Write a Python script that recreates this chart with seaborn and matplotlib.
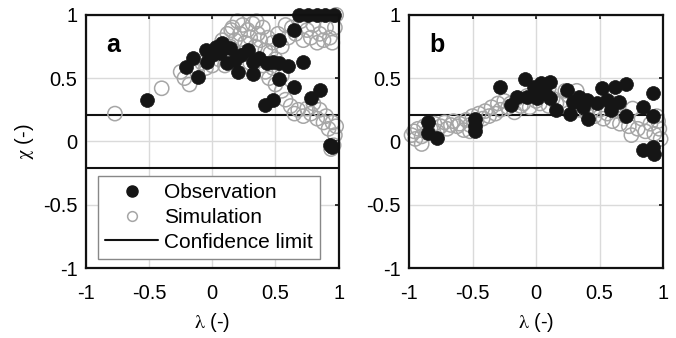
import pandas as pd
import matplotlib.pyplot as plt
import seaborn as sns
from matplotlib.lines import Line2D

# panel a: observed points (lambda, chi)
obs_a_x = [-0.52, -0.21, -0.15, -0.11, -0.05, -0.04, 0.03, 0.08, 0.14, 0.12, 0.20, 0.23,
           0.28, 0.32, 0.32, 0.37, 0.43, 0.48, 0.53, 0.53, 0.60, 0.53, 0.42, 0.48, 0.65,
           0.65, 0.72, 0.69, 0.76, 0.83, 0.89, 0.96, 0.78, 0.85, 0.93, 0.95, 0.00, 0.06, 0.18]
obs_a_y = [0.33, 0.59, 0.66, 0.51, 0.72, 0.63, 0.75, 0.78, 0.74, 0.62, 0.55, 0.68,
           0.72, 0.63, 0.53, 0.66, 0.62, 0.63, 0.49, 0.62, 0.60, 0.80, 0.29, 0.33, 0.88,
           0.43, 0.63, 1.00, 1.00, 1.00, 1.00, 1.00, 0.34, 0.41, -0.03, -0.04, 0.68, 0.70, 0.64]

# panel a: simulated points
sim_a_x = [-0.77, -0.40, -0.25, -0.22, -0.18, -0.15, -0.12, -0.08, -0.05, -0.02, 0.00, 0.03,
           0.05, 0.08, 0.10, 0.12, 0.14, 0.16, 0.18, 0.20, 0.22, 0.24, 0.26, 0.28, 0.30,
           0.32, 0.34, 0.36, 0.38, 0.40, 0.42, 0.44, 0.46, 0.48, 0.50, 0.52, 0.55, 0.58,
           0.60, 0.63, 0.66, 0.70, 0.72, 0.75, 0.78, 0.80, 0.83, 0.85, 0.88, 0.90, 0.93,
           0.95, 0.97, 0.98, 0.45, 0.50, 0.55, 0.58, 0.62, 0.65, 0.68, 0.72, 0.75, 0.78,
           0.80, 0.83, 0.85, 0.88, 0.90, 0.92, 0.95, 0.97, 0.96, 0.94, 0.98, 0.10, 0.20,
           0.30, 0.40, 0.25, 0.15, 0.35, 0.42, 0.48, 0.55]
sim_a_y = [0.22, 0.42, 0.55, 0.50, 0.45, 0.60, 0.55, 0.62, 0.58, 0.68, 0.60, 0.72,
           0.65, 0.80, 0.70, 0.85, 0.75, 0.90, 0.80, 0.95, 0.85, 0.92, 0.78, 0.88, 0.82,
           0.93, 0.75, 0.85, 0.80, 0.90, 0.72, 0.82, 0.70, 0.78, 0.65, 0.85, 0.75, 0.92,
           0.82, 0.90, 0.85, 0.95, 0.80, 0.88, 0.82, 0.92, 0.78, 0.85, 0.80, 0.90, 0.82,
           0.78, 0.90, 1.00, 0.50, 0.45, 0.40, 0.33, 0.28, 0.22, 0.25, 0.20, 0.26, 0.22,
           0.30, 0.18, 0.25, 0.15, 0.20, 0.10, 0.15, 0.05, -0.03, -0.06, 0.12, 0.60, 0.68,
           0.62, 0.60, 0.70, 0.88, 0.95, 0.55, 0.58, 0.52]

# panel b: observed points
obs_b_x = [-0.85, -0.85, -0.78, -0.48, -0.48, -0.48, -0.28, -0.20, -0.15, -0.09, -0.07,
           -0.02, 0.01, 0.04, 0.07, 0.11, 0.11, 0.16, 0.24, 0.27, 0.29, 0.34, 0.37, 0.41,
           0.40, 0.48, 0.52, 0.56, 0.59, 0.62, 0.65, 0.71, 0.71, 0.84, 0.92, 0.92, 0.84,
           0.92, 0.93]
obs_b_y = [0.15, 0.07, 0.03, 0.18, 0.12, 0.08, 0.43, 0.29, 0.35, 0.49, 0.35,
           0.43, 0.34, 0.46, 0.38, 0.47, 0.34, 0.25, 0.41, 0.22, 0.31, 0.35, 0.27, 0.18,
           0.33, 0.30, 0.42, 0.33, 0.25, 0.43, 0.31, 0.45, 0.20, 0.27, 0.38, 0.20, -0.07,
           -0.04, -0.10]

# panel b: simulated points
sim_b_x = [-0.98, -0.96, -0.95, -0.93, -0.90, -0.88, -0.86, -0.83, -0.80, -0.78, -0.75,
           -0.72, -0.70, -0.67, -0.65, -0.62, -0.60, -0.57, -0.55, -0.52, -0.50, -0.47,
           -0.45, -0.42, -0.40, -0.37, -0.35, -0.32, -0.30, -0.28, -0.25, -0.22, -0.20,
           -0.17, -0.15, -0.12, -0.10, -0.07, -0.05, 0.00, 0.03, 0.06, 0.10, 0.13, 0.16,
           0.20, 0.23, 0.26, 0.30, 0.33, 0.36, 0.40, 0.43, 0.46, 0.50, 0.53, 0.56, 0.60,
           0.63, 0.66, 0.70, 0.73, 0.76, 0.80, 0.83, 0.86, 0.90, 0.93, 0.95, 0.97, 0.98,
           0.96, -0.52, -0.90, 0.10, 0.32, 0.60, 0.75]
sim_b_y = [0.05, 0.08, 0.02, 0.10, 0.04, 0.12, 0.07, 0.10, 0.14, 0.08, 0.12,
           0.15, 0.10, 0.13, 0.16, 0.12, 0.14, 0.09, 0.17, 0.13, 0.20, 0.16,
           0.22, 0.18, 0.24, 0.20, 0.27, 0.22, 0.30, 0.25, 0.32, 0.27, 0.30,
           0.23, 0.34, 0.28, 0.30, 0.36, 0.27, 0.32, 0.30, 0.38, 0.28, 0.34, 0.30,
           0.32, 0.40, 0.36, 0.30, 0.25, 0.32, 0.22, 0.28, 0.20, 0.25, 0.18, 0.22, 0.16,
           0.24, 0.14, 0.20, 0.12, 0.26, 0.10, 0.18, 0.08, 0.14, 0.06, 0.20, 0.10, 0.02,
           0.16, 0.08, -0.02, 0.42, 0.40, 0.30, 0.05]

conf_limit = 0.21
ticks = [-1, -0.5, 0, 0.5, 1]
tick_labels = ['-1', '-0.5', '0', '0.5', '1']

sns.set_style('white')
plt.rcParams['font.family'] = ['Liberation Sans', 'DejaVu Sans']
plt.rcParams['mathtext.fontset'] = 'stix'
plt.rcParams['text.color'] = 'black'
plt.rcParams['axes.labelcolor'] = 'black'
plt.rcParams['xtick.labelcolor'] = 'black'
plt.rcParams['ytick.labelcolor'] = 'black'

fig = plt.figure(figsize=(6.76, 3.38), dpi=100)
ax_a = fig.add_axes([0.127, 0.207, 0.374, 0.749])
ax_b = fig.add_axes([0.605, 0.207, 0.376, 0.749])

panels = [
    (ax_a, 'a', obs_a_x, obs_a_y, sim_a_x, sim_a_y),
    (ax_b, 'b', obs_b_x, obs_b_y, sim_b_x, sim_b_y),
]

for ax, tag, ox, oy, sx, sy in panels:
    sim = pd.DataFrame({'lam': sx, 'chi': sy})
    obs = pd.DataFrame({'lam': ox, 'chi': oy})
    sns.scatterplot(data=sim, x='lam', y='chi', ax=ax, s=105, marker='o',
                    facecolors='none', edgecolor='#a6a6a6', linewidth=1.1,
                    zorder=3, clip_on=False)
    sns.scatterplot(data=obs, x='lam', y='chi', ax=ax, s=100, marker='o',
                    color='#151515', edgecolor='#151515', linewidth=0.5,
                    zorder=4, clip_on=False)
    ax.axhline(conf_limit, color='#111111', lw=1.5, zorder=2)
    ax.axhline(-conf_limit, color='#111111', lw=1.5, zorder=2)

    ax.set_xlim(-1, 1)
    ax.set_ylim(-1, 1)
    ax.set_xticks(ticks)
    ax.set_yticks(ticks)
    ax.set_xticklabels(tick_labels)
    ax.set_yticklabels(tick_labels)
    ax.grid(True, color='#dadada', lw=1.0, zorder=0)
    ax.set_axisbelow(True)
    ax.tick_params(direction='in', length=3, width=1.2, top=True, right=True,
                   labelsize=14.5, color='#111111', labelcolor='black')
    ax.tick_params(axis='x', pad=11.5)
    ax.tick_params(axis='y', pad=6)
    for sp in ax.spines.values():
        sp.set_linewidth(1.6)
        sp.set_color('#111111')
        sp.set_zorder(5)
    ax.set_xlabel(r'$\mathrm{\lambda}$ (-)', fontsize=14.5, labelpad=6, color='black')
    ax.set_ylabel('')
    ax.text(-0.84, 0.76, tag, fontsize=18, fontweight='bold', va='center',
            ha='left', color='black')

ax_a.set_ylabel(r'$\mathrm{\chi}$ (-)', fontsize=14.5, labelpad=5, color='black')

handles = [
    Line2D([], [], marker='o', ls='none', color='#151515', markersize=8),
    Line2D([], [], marker='o', ls='none', markerfacecolor='none',
           markeredgecolor='#a6a6a6', markersize=7, markeredgewidth=1.1),
    Line2D([], [], color='#111111', lw=1.5),
]
leg = ax_a.legend(handles, ['Observation', 'Simulation', 'Confidence limit'],
                  loc='lower left', bbox_to_anchor=(0.047, 0.036), fontsize=15,
                  frameon=True, fancybox=False, edgecolor='#888888',
                  handlelength=2.55, handletextpad=0.3, borderpad=0.35,
                  labelspacing=0.28, borderaxespad=0, framealpha=1,
                  labelcolor='black')
leg.get_frame().set_linewidth(1.0)
leg.set_zorder(6)

fig.savefig('out.png', dpi=100)
